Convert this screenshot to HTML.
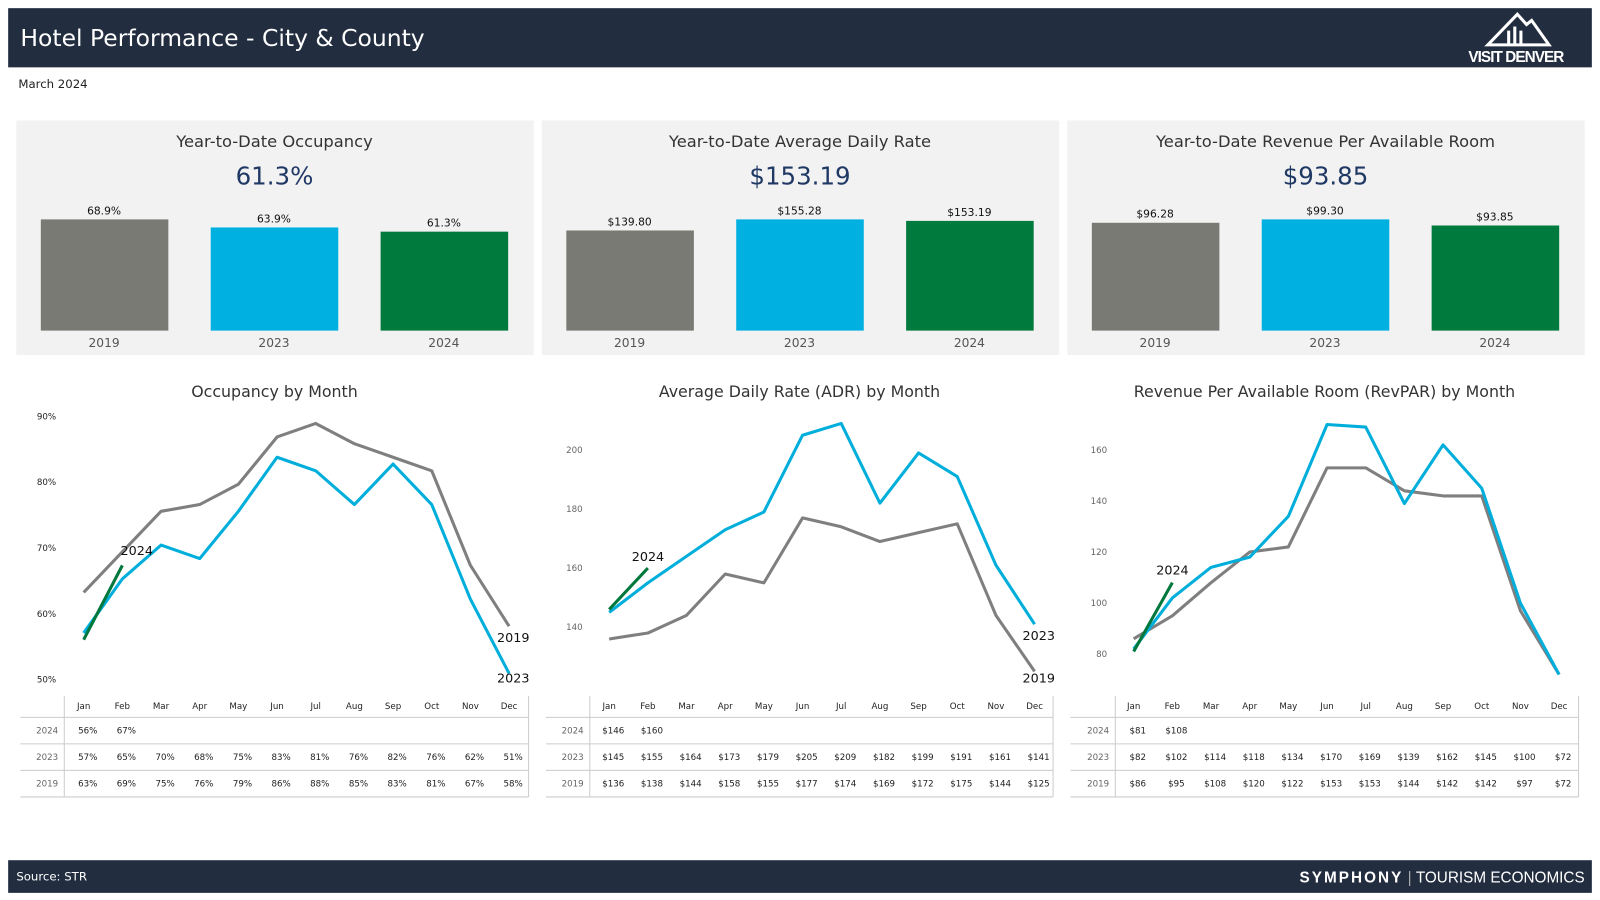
<!DOCTYPE html>
<html><head><meta charset="utf-8"><style>
html,body{margin:0;padding:0;background:#fff;}
svg{display:block;font-family:"DejaVu Sans","Liberation Sans",sans-serif;}
</style></head><body>
<svg id="root" width="1600" height="900" viewBox="0 0 1568 882" xmlns="http://www.w3.org/2000/svg">
<rect x="8" y="8" width="1552" height="58" fill="#222d3f"/>
<text x="20" y="45" font-size="23" fill="#fff">Hotel Performance - City &amp; County</text>
<g>
<path d="M1458 44 L1487 14 L1496 24 L1501 20 L1518 44 Z" fill="none" stroke="#fff" stroke-width="3"/>
<rect x="1477" y="30" width="3" height="13" fill="#fff"/><rect x="1483" y="26" width="3" height="17" fill="#fff"/><rect x="1489" y="30" width="3" height="13" fill="#fff"/>
<text x="1486" y="61" font-size="15" font-weight="bold" fill="#fff" text-anchor="middle" font-family="Liberation Sans" textLength="94">VISIT DENVER</text>
</g>
<text x="18" y="86" font-size="11.5" fill="#222">March 2024</text>
<g id="kpis"></g>
<g id="charts"></g>
<rect x="8" y="843" width="1552" height="32" fill="#222d3f"/>
<text x="16" y="863" font-size="11.5" fill="#fff">Source: STR</text>
<text x="1553" y="865" font-size="15" fill="#fff" text-anchor="end" font-family="Liberation Sans"><tspan font-weight="bold" letter-spacing="2">SYMPHONY</tspan><tspan fill="#aaa"> | </tspan><tspan>TOURISM ECONOMICS</tspan></text>
</svg>
<script>
const NS="http://www.w3.org/2000/svg";
const kpiTitles=["Year-to-Date Occupancy","Year-to-Date Average Daily Rate","Year-to-Date Revenue Per Available Room"];
const kpiValues=["61.3%","$153.19","$93.85"];
const kpiYears=["2019","2023","2024"];
const occYtd=[68.9,63.9,61.3];
const adrYtd=[139.80,155.28,153.19];
const revparYtd=[96.28,99.30,93.85];
const occYtdLabels=["68.9%","63.9%","61.3%"];
const adrYtdLabels=["$139.80","$155.28","$153.19"];
const revparYtdLabels=["$96.28","$99.30","$93.85"];
const months=["Jan","Feb","Mar","Apr","May","Jun","Jul","Aug","Sep","Oct","Nov","Dec"];
const occ2024=[56,67];
const occ2023=[57,65,70,68,75,83,81,76,82,76,62,51];
const occ2019=[63,69,75,76,79,86,88,85,83,81,67,58];
const adr2024=[146,160];
const adr2023=[145,155,164,173,179,205,209,182,199,191,161,141];
const adr2019=[136,138,144,158,155,177,174,169,172,175,144,125];
const rev2024=[81,108];
const rev2023=[82,102,114,118,134,170,169,139,162,145,100,72];
const rev2019=[86,95,108,120,122,153,153,144,142,142,97,72];
const occTicks=[50,60,70,80,90];
const adrTicks=[140,160,180,200];
const revTicks=[80,100,120,140,160];
const chartTitles=["Occupancy by Month","Average Daily Rate (ADR) by Month","Revenue Per Available Room (RevPAR) by Month"];

function mk(tag,attrs,parent,text){const e=document.createElementNS(NS,tag);for(const k in attrs)e.setAttribute(k,attrs[k]);if(text!==undefined)e.textContent=text;parent.appendChild(e);return e;}
const colors=["#7a7a75","#00b0e0","#007a3d"];
const kg=document.getElementById('kpis');
const panelX=[16,531,1046];
const kpiData=[occYtd,adrYtd,revparYtd];
const kpiLabels=[occYtdLabels,adrYtdLabels,revparYtdLabels];
for(let p=0;p<3;p++){
  const g=mk('g',{},kg);
  
  
  const x0=panelX[p];
  mk('rect',{x:x0,y:118,width:507,height:230,fill:'#f2f2f2'},g);
  const t=mk('text',{x:x0+253,y:144,'font-size':16,fill:'#333','text-anchor':'middle'},g,kpiTitles[p]);
  
  const v=mk('text',{x:x0+253,y:181,'font-size':24,fill:'#1f3864','text-anchor':'middle'},g,kpiValues[p]);
  
  const d=kpiData[p];const mx=Math.max(...d);
  const yb=v=>324-v/mx*109;
  for(let i=0;i<3;i++){
    const bx=x0+24+i*166.5;
    const r=mk('rect',{x:bx,y:yb(d[i]),width:125,height:324-yb(d[i]),fill:colors[i]},g);
    
    const l=mk('text',{x:bx+62,y:yb(d[i])-5,'font-size':10.5,fill:'#111','text-anchor':'middle'},g,kpiLabels[p][i]);
    
    const yl=mk('text',{x:bx+62,y:340,'font-size':12,fill:'#555','text-anchor':'middle'},g,kpiYears[i]);
    
  }
}
const cg=document.getElementById('charts');
const charts=[
 {x0:82,tableX:20,div:63,right:518,yA:[88,415],yB:[51,660],ticks:occTicks,tickCol:'#222',tickX:55,tickFmt:v=>v+'%',fmt:v=>v+'%',s24:occ2024,s23:occ2023,s19:occ2019,end:[['2019',503,629],['2023',503,669]],lab24:[134,544]},
 {x0:597,tableX:535,div:578,right:1032,yA:[200,441],yB:[125,658],ticks:adrTicks,tickCol:'#666',tickX:571,tickFmt:v=>v,fmt:v=>'$'+v,s24:adr2024,s23:adr2023,s19:adr2019,end:[['2023',1018,627],['2019',1018,669]],lab24:[635,550]},
 {x0:1111,tableX:1049,div:1093,right:1547,yA:[160,441],yB:[80,641],ticks:revTicks,tickCol:'#666',tickX:1085,tickFmt:v=>v,fmt:v=>'$'+v,s24:rev2024,s23:rev2023,s19:rev2019,end:[],lab24:[1149,563]}
];
const tickPos=[[666,601,535,470,408],null,null];
const step=37.9;
charts.forEach((c,ci)=>{
  const g=mk('g',{},cg);
  
  
  const cx=(c.tableX+c.right)/2;
  const tt=mk('text',{x:cx,y:389,'font-size':15.5,fill:'#333','text-anchor':'middle'},g,chartTitles[ci]);
  
  const ys=v=>c.yA[1]+(v-c.yA[0])*(c.yB[1]-c.yA[1])/(c.yB[0]-c.yA[0]);
  const xs=i=>c.x0+i*step;
  const tys=ci===0?(v=>666+(v-50)*(408-666)/40):ys;
  c.ticks.forEach(t=>{const e=mk('text',{x:c.tickX,y:tys(t)+3,'font-size':8.5,fill:c.tickCol,'text-anchor':'end'},g,c.tickFmt(t));
    });
  const line=(arr,col,name)=>{const p=mk('polyline',{points:arr.map((v,i)=>xs(i)+','+ys(v)).join(' '),fill:'none',stroke:col,'stroke-width':3,'stroke-linejoin':'round'},g);
    };
  line(c.s19,'#7f7f7f','line-2019');
  line(c.s23,'#00aedb','line-2023');
  line(c.s24,'#00783c','line-2024');
  c.end.forEach(e=>{const t=mk('text',{x:e[1],y:e[2],'font-size':12.5,fill:'#111','text-anchor':'middle'},g,e[0]);
    });
  const l24=mk('text',{x:c.lab24[0],y:c.lab24[1],'font-size':12.5,fill:'#111','text-anchor':'middle'},g,'2024');
  
  const tg=mk('g',{},g);
  
  
  mk('line',{x1:c.div,y1:682,x2:c.div,y2:781,stroke:'#ccc'},tg);
  mk('line',{x1:c.right,y1:682,x2:c.right,y2:781,stroke:'#ccc'},tg);
  [703,729,755,781].forEach(y=>mk('line',{x1:c.tableX,y1:y,x2:c.right,y2:y,stroke:'#ccc'},tg));
  months.forEach((m,i)=>{const t=mk('text',{x:xs(i),y:695,'font-size':8.5,fill:'#222','text-anchor':'middle'},tg,m);
    });
  [['2024',c.s24,719],['2023',c.s23,745],['2019',c.s19,771]].forEach(r=>{
    const rl=mk('text',{x:c.div-6,y:r[2],'font-size':8.5,fill:'#666','text-anchor':'end'},tg,r[0]);
    
    r[1].forEach((v,i)=>{const t=mk('text',{x:xs(i)+4,y:r[2],'font-size':8.5,fill:'#222','text-anchor':'middle'},tg,c.fmt(v));
      });
  });
});
</script>
</body></html>
